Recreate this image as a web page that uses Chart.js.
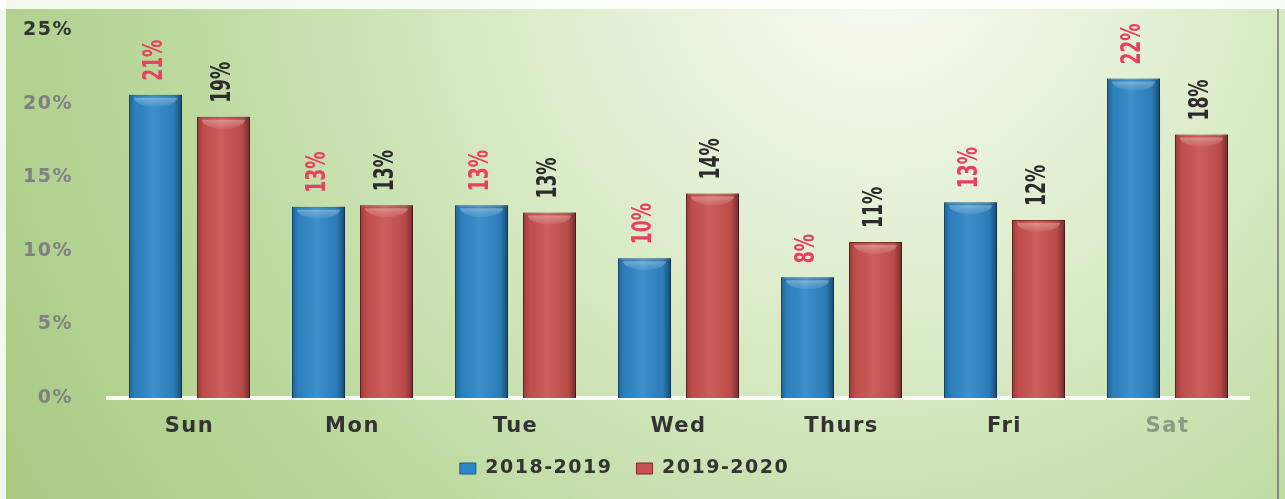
<!DOCTYPE html>
<html lang="en">
<head>
  <meta charset="UTF-8">
  <title>Share by day of week</title>
  <script src="https://cdn.jsdelivr.net/npm/chart.js"></script>
  <style>
    body { margin: 0; background: #fff; }
    .chart-container { position: relative; width: 1285px; height: 499px; }
  </style>
</head>
<body>
  <div class="chart-container">
    <canvas id="dayChart"></canvas>
  </div>

  <script>
    // Data
    const days = ['Sun', 'Mon', 'Tue', 'Wed', 'Thurs', 'Fri', 'Sat'];
    const season1 = [20.6, 13.0, 13.1, 9.5, 8.2, 13.3, 21.7];   // 2018-2019
    const season2 = [19.1, 13.1, 12.6, 13.9, 10.6, 12.1, 17.9]; // 2019-2020
    const labels1 = ['21%', '13%', '13%', '10%', '8%', '13%', '22%'];
    const labels2 = ['19%', '13%', '13%', '14%', '11%', '12%', '18%'];
    const yTicks = [0, 5, 10, 15, 20, 25];

    // Wide-looking text: a little letter spacing on axis and legend text
    const spacing = {
      id: 'spacing',
      beforeLayout(chart) { chart.ctx.letterSpacing = '1.5px'; },
      beforeDraw(chart) { chart.ctx.letterSpacing = '1.5px'; }
    };

    // Green gradient backdrop
    const backdrop = {
      id: 'backdrop',
      beforeDraw(chart) {
        const { ctx, width, height } = chart;
        ctx.save();
        const g = ctx.createRadialGradient(880, -40, 20, 880, -40, 1000);
        g.addColorStop(0, '#f6fbf2');
        g.addColorStop(0.35, '#dcecca');
        g.addColorStop(0.7, '#bcd99e');
        g.addColorStop(1, '#a9cb84');
        ctx.fillStyle = g;
        ctx.fillRect(0, 0, width, height);
        // light frame at top and left
        ctx.fillStyle = 'rgba(255,255,255,0.85)';
        ctx.fillRect(0, 0, width, 9);
        ctx.fillRect(0, 0, 6, height);
        ctx.fillStyle = 'rgba(60,60,60,0.5)';
        ctx.fillRect(width - 8, 9, 2, height - 9);
        ctx.restore();
      }
    };

    // Shading to give the bars a rounded, glossy look
    const barShade = {
      id: 'barShade',
      afterDatasetsDraw(chart) {
        const { ctx } = chart;
        chart.data.datasets.forEach((ds, i) => {
          chart.getDatasetMeta(i).data.forEach(bar => {
            const left = bar.x - bar.width / 2;
            const right = bar.x + bar.width / 2;
            const h = bar.base - bar.y;
            ctx.save();
            const g = ctx.createLinearGradient(left, 0, right, 0);
            g.addColorStop(0, 'rgba(0,0,0,0.25)');
            g.addColorStop(0.12, 'rgba(0,0,0,0.05)');
            g.addColorStop(0.45, 'rgba(255,255,255,0.08)');
            g.addColorStop(0.85, 'rgba(0,0,0,0.08)');
            g.addColorStop(1, 'rgba(0,0,0,0.45)');
            ctx.fillStyle = g;
            ctx.fillRect(left, bar.y, bar.width, h);
            // top cap highlight
            const cap = ctx.createLinearGradient(0, bar.y, 0, bar.y + 14);
            cap.addColorStop(0, 'rgba(255,255,255,0.4)');
            cap.addColorStop(1, 'rgba(255,255,255,0)');
            ctx.fillStyle = cap;
            ctx.beginPath();
            ctx.ellipse(bar.x, bar.y + 3, bar.width / 2 - 5, 9, 0, 0, Math.PI);
            ctx.fill();
            ctx.restore();
          });
        });
      }
    };

    // Rotated, condensed value labels above each bar
    const valueLabels = {
      id: 'valueLabels',
      afterDatasetsDraw(chart) {
        const { ctx } = chart;
        const sets = [[labels1, '#e8405e'], [labels2, '#2b2b2b']];
        sets.forEach(([texts, color], i) => {
          chart.getDatasetMeta(i).data.forEach((bar, j) => {
            ctx.save();
            ctx.letterSpacing = '0px';
            ctx.translate(bar.x, bar.y - 14);
            ctx.rotate(-Math.PI / 2);
            ctx.scale(0.66, 1);
            ctx.font = 'bold 26px "DejaVu Sans", sans-serif';
            ctx.fillStyle = color;
            ctx.textAlign = 'left';
            ctx.textBaseline = 'middle';
            ctx.fillText(texts[j], 0, 0);
            ctx.restore();
          });
        });
      }
    };

    const ctx = document.getElementById('dayChart').getContext('2d');
    new Chart(ctx, {
      type: 'bar',
      data: {
        labels: days,
        datasets: [{
          label: '2018-2019',
          data: season1,
          backgroundColor: '#2e86c6',
          borderColor: '#1d5a8a',
          borderWidth: 1
        }, {
          label: '2019-2020',
          data: season2,
          backgroundColor: '#c9514f',
          borderColor: '#7f2b2b',
          borderWidth: 1
        }]
      },
      options: {
        responsive: true,
        maintainAspectRatio: false,
        animation: false,
        categoryPercentage: 0.834,
        barPercentage: 0.78,
        layout: { padding: { top: 30, right: 36, left: 0, bottom: 11 } },
        plugins: {
          tooltip: { enabled: false },
          legend: {
            position: 'bottom',
            labels: {
              boxWidth: 16,
              boxHeight: 11,
              padding: 24,
              color: '#333',
              font: { family: '"DejaVu Sans", sans-serif', size: 19, weight: 'bold' }
            }
          }
        },
        scales: {
          x: {
            grid: { display: false },
            border: { display: true, color: 'rgba(255,255,255,0.9)', width: 4 },
            ticks: {
              padding: 8,
              color: c => (c.index === 6 ? '#8c9a84' : '#333'),
              font: { family: '"DejaVu Sans", sans-serif', size: 21, weight: 'bold' }
            },
            afterFit: s => { s.height = 37; }
          },
          y: {
            min: 0,
            max: 25,
            grid: { display: false },
            border: { display: false },
            afterBuildTicks: s => { s.ticks = yTicks.map(v => ({ value: v })); },
            afterFit: s => {
              s.width = 108;
              s.paddingTop = 0;
              s.paddingBottom = 0;
            },
            ticks: {
              padding: 27,
              color: c => (c.tick.value === 25 ? '#333' : '#808080'),
              font: { family: '"DejaVu Sans", sans-serif', size: 19, weight: 'bold' },
              callback: v => v + '%'
            }
          }
        }
      },
      plugins: [spacing, backdrop, barShade, valueLabels]
    });
  </script>
</body>
</html>
